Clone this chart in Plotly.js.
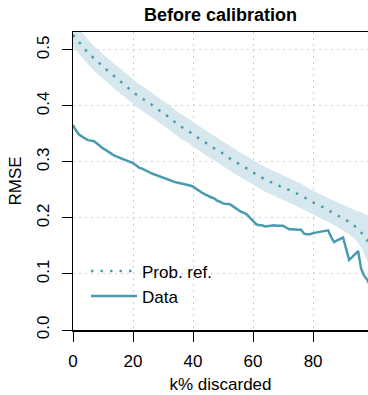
<!DOCTYPE html>
<html>
<head>
<meta charset="utf-8">
<script src="https://cdn.plot.ly/plotly-3.0.1.min.js"></script>
<style>html,body{margin:0;padding:0;background:#fff;}#chart{width:368px;height:395px;}</style>
</head>
<body>
<div id="chart"></div>
<script>
// Probabilistic reference (dotted curve) and its band
var refK = [0,2,4,6,8,10,12,14,16,18,20,22,24,26,28,30,32,34,36,38,40,42,44,46,48,50,52,54,56,58,60,62,64,66,68,70,72,74,76,78,80,82,84,86,88,90,92,94,96,98,100];
var refMid = [0.527,0.514,0.501,0.490,0.480,0.470,0.461,0.452,0.443,0.434,0.425,0.417,0.410,0.403,0.395,0.387,0.380,0.371,0.363,0.357,0.349,0.342,0.335,0.328,0.321,0.315,0.307,0.301,0.294,0.288,0.281,0.275,0.269,0.264,0.259,0.254,0.250,0.245,0.240,0.234,0.228,0.223,0.217,0.211,0.205,0.199,0.193,0.185,0.174,0.160,0.140];
var refUpper = [0.550,0.537,0.524,0.512,0.502,0.492,0.483,0.474,0.465,0.456,0.447,0.439,0.432,0.425,0.417,0.409,0.402,0.393,0.385,0.379,0.371,0.364,0.357,0.350,0.343,0.337,0.329,0.323,0.316,0.310,0.303,0.297,0.291,0.286,0.281,0.276,0.272,0.267,0.261,0.255,0.249,0.243,0.238,0.233,0.228,0.223,0.218,0.214,0.210,0.205,0.198];
var refLower = [0.505,0.492,0.479,0.468,0.458,0.448,0.439,0.430,0.421,0.412,0.403,0.395,0.388,0.381,0.373,0.365,0.358,0.349,0.341,0.335,0.327,0.320,0.313,0.306,0.299,0.293,0.285,0.279,0.272,0.266,0.259,0.253,0.247,0.242,0.237,0.232,0.228,0.223,0.218,0.212,0.206,0.201,0.196,0.190,0.184,0.178,0.171,0.162,0.148,0.124,0.095];
// Observed data curve
var dataK = [0,1,2,3,4,5,6,7,8,9,10,11,12,13,14,15,16,17,18,19,20,21,22,23,24,25,26,27,28,29,30,31,32,33,34,35,36,37,38,39,40,41,42,43,44,45,46,47,48,49,50,51,52,53,54,55,56,57,58,59,60,61,62,63,64,65,66,67,68,69,70,71,72,73,74,75,76,77,78,79,80,81,82,83,84,85,86,87,88,89,90,91,92,93,94,95,96,97,98,99];
var dataRMSE = [0.366,0.356,0.349,0.345,0.342,0.339,0.338,0.337,0.333,0.328,0.324,0.321,0.317,0.314,0.311,0.309,0.306,0.304,0.302,0.300,0.298,0.294,0.290,0.288,0.285,0.283,0.280,0.278,0.276,0.274,0.271,0.269,0.267,0.266,0.264,0.263,0.262,0.260,0.259,0.258,0.256,0.252,0.248,0.245,0.242,0.239,0.237,0.235,0.231,0.229,0.226,0.225,0.225,0.222,0.218,0.214,0.211,0.209,0.206,0.200,0.194,0.189,0.187,0.187,0.185,0.186,0.187,0.187,0.186,0.186,0.186,0.183,0.180,0.180,0.179,0.179,0.179,0.172,0.171,0.171,0.173,0.174,0.175,0.176,0.177,0.178,0.166,0.157,0.160,0.163,0.165,0.145,0.125,0.130,0.135,0.141,0.110,0.097,0.090,0.080];
var xTicks = [0,20,40,60,80];
var yTicks = [0.0,0.1,0.2,0.3,0.4,0.5];
var yTickText = ['0.0','0.1','0.2','0.3','0.4','0.5'];

var teal = '#4a9bb0';
var bandColor = '#d6e8ee';
var font = 'Liberation Sans, Arial, Helvetica, sans-serif';

var traces = [
  {x: refK, y: refLower, type: 'scatter', mode: 'lines', line: {width: 0, color: bandColor}, showlegend: false, hoverinfo: 'skip'},
  {x: refK, y: refUpper, type: 'scatter', mode: 'lines', fill: 'tonexty', fillcolor: bandColor, line: {width: 0, color: bandColor}, showlegend: false, hoverinfo: 'skip'},
  {x: refK, y: refMid, type: 'scatter', mode: 'lines', name: 'Prob. ref.', line: {color: teal, width: 2.5, dash: '2.5px,7px', shape: 'spline'}},
  {x: dataK, y: dataRMSE, type: 'scatter', mode: 'lines', name: 'Data', line: {color: teal, width: 2.5}}
];

var layout = {
  width: 368, height: 395,
  margin: {l: 73, r: 0, t: 32, b: 65, pad: 0},
  paper_bgcolor: '#ffffff', plot_bgcolor: '#ffffff',
  font: {family: font, size: 17, color: '#000'},
  title: {text: 'Before calibration', font: {family: font, size: 18, color: '#000', weight: 'bold'}, x: 0.5, xref: 'paper', xanchor: 'center', y: 1 - 15/395, yref: 'container', yanchor: 'middle'},
  xaxis: {
    range: [0, 98.3], tickvals: xTicks, ticktext: xTicks.map(String),
    showline: true, mirror: true, linecolor: '#000', linewidth: 1.5,
    ticks: 'outside', ticklen: 10, tickwidth: 1, tickcolor: '#000',
    showgrid: true, gridcolor: '#d0d0d0', gridwidth: 1, griddash: '1.5px,4.5px',
    zeroline: false, tickfont: {size: 17}, ticklabelstandoff: 5,
    title: {text: 'k% discarded', font: {size: 17}, standoff: 8}
  },
  yaxis: {
    range: [0, 0.532], tickvals: yTicks, ticktext: yTickText, tickangle: -90,
    showline: true, linecolor: '#000', linewidth: 1.5,
    ticks: 'outside', ticklen: 10, tickwidth: 1, tickcolor: '#000',
    showgrid: true, gridcolor: '#d0d0d0', gridwidth: 1, griddash: '1.5px,4.5px',
    zeroline: false, tickfont: {size: 17}, ticklabelstandoff: 6,
    title: {text: 'RMSE', font: {size: 17}, standoff: 8}
  },
  legend: {x: 0.044, y: 0.257, xanchor: 'left', yanchor: 'top', traceorder: 'normal', bgcolor: 'rgba(0,0,0,0)', font: {size: 17}, tracegroupgap: 0, itemwidth: 46},
  showlegend: true
};

Plotly.newPlot('chart', traces, layout, {displayModeBar: false, staticPlot: true});
</script>
</body>
</html>
